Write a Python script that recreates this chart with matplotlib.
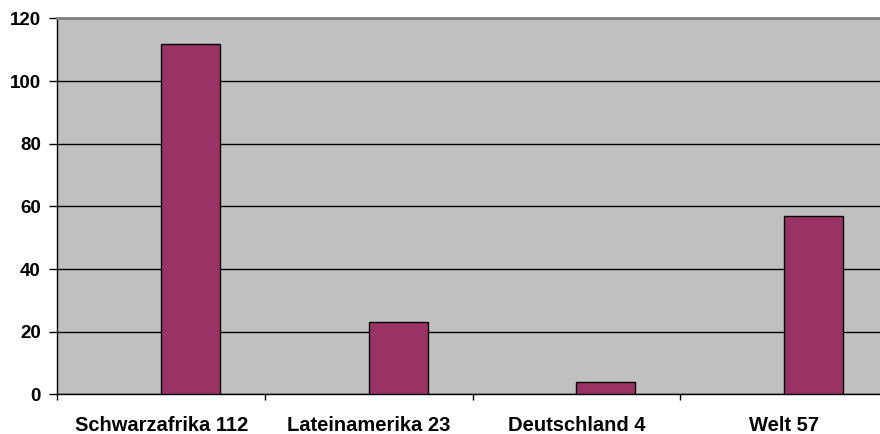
import matplotlib
matplotlib.use('Agg')
import matplotlib.pyplot as plt
import numpy as np

# data
categories = ['Schwarzafrika 112', 'Lateinamerika 23', 'Deutschland 4', 'Welt 57']
values = [112, 23, 4, 57]
y_ticks = [0, 20, 40, 60, 80, 100, 120]

plt.rcParams['font.family'] = ['Liberation Sans', 'DejaVu Sans']

fig = plt.figure(figsize=(8.8, 4.34), dpi=100)
ax = fig.add_axes([0.0653, 0.0915, 1.009 - 0.0653, 0.9574 - 0.0915])
ax.set_facecolor('#C0C0C0')

x = np.arange(len(categories))
ax.set_axisbelow(True)
ax.yaxis.grid(True, color='black', linewidth=1.0)
ax.bar(x, values, width=0.284, align='edge', color='#993366',
       edgecolor='black', linewidth=1.0, zorder=3)

ax.set_xlim(-0.5, len(categories) - 0.5)
ax.set_ylim(0, 120)
ax.set_yticks(y_ticks)
ax.set_yticklabels([str(v) for v in y_ticks], fontsize=13.5, fontweight='bold')
ax.tick_params(axis='y', direction='out', length=6, width=1, pad=6)

ax.set_xticks(x)
ax.set_xticklabels(categories, fontsize=14.5, fontweight='bold')
ax.tick_params(axis='x', which='major', length=0, pad=15.8)
ax.set_xticks(np.arange(len(categories)) - 0.5, minor=True)
ax.tick_params(axis='x', which='minor', direction='out', length=4, width=1)

for side in ['left', 'bottom']:
    ax.spines[side].set_color('black')
    ax.spines[side].set_linewidth(1)
ax.spines['top'].set_color('#808080')
ax.spines['top'].set_linewidth(2)
ax.spines['right'].set_visible(False)

fig.savefig('out.png', dpi=100)
